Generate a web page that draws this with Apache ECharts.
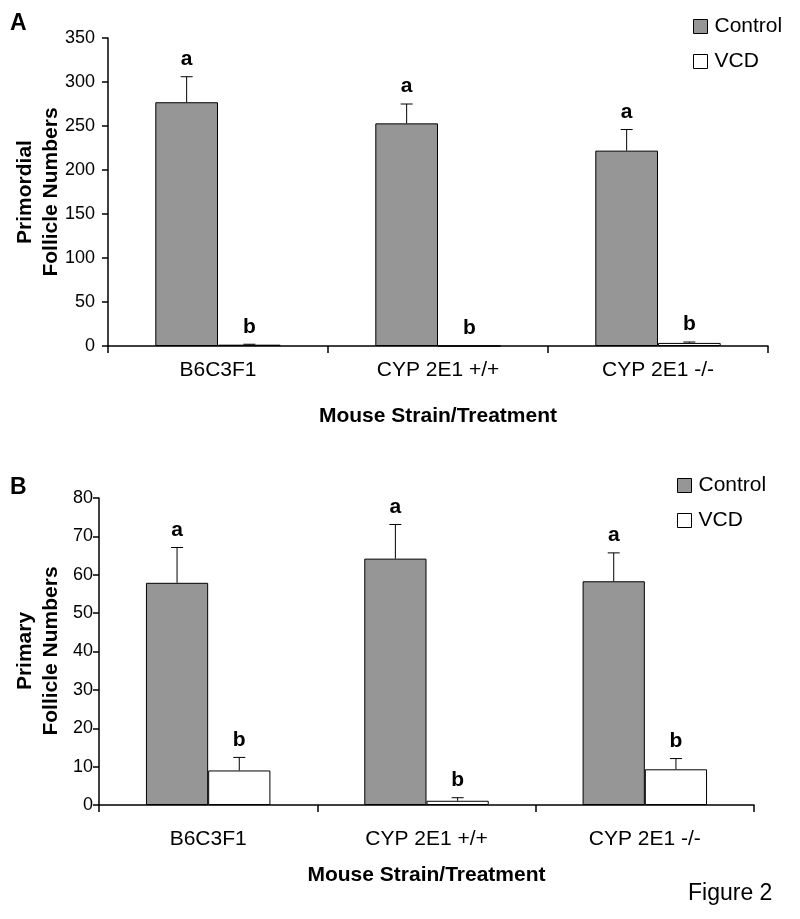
<!DOCTYPE html>
<html>
<head>
<meta charset="utf-8">
<script src="https://cdn.jsdelivr.net/npm/echarts@6/dist/echarts.min.js"></script>
<style>
html,body{margin:0;padding:0;background:#fff;}
#chart{width:800px;height:919px;}
</style>
</head>
<body>
<div id="chart"></div>
<script>
// ---- data ----
const categories = ['B6C3F1', 'CYP 2E1 +/+', 'CYP 2E1 -/-'];
const seriesNames = ['Control', 'VCD'];
// Panel A: primordial follicles
const aControl = [277, 253, 222];
const aControlErr = [29, 22, 24];
const aVCD = [1.5, 0, 3.5];
const aVCDErr = [0.5, 0, 1];
const aControlLetters = ['a', 'a', 'a'];
const aVCDLetters = ['b', 'b', 'b'];
// Panel B: primary follicles
const bControl = [57.9, 64.2, 58.3];
const bControlErr = [9.2, 8.9, 7.4];
const bVCD = [9.0, 1.1, 9.3];
const bVCDErr = [3.4, 0.8, 2.8];
const bControlLetters = ['a', 'a', 'a'];
const bVCDLetters = ['b', 'b', 'b'];
// axis ranges / ticks
const aYMax = 350, aYStep = 50;
const bYMax = 80, bYStep = 10;

const FONT = "'Liberation Sans', Arial, sans-serif";
const GRAY = '#969696';
const CAT_GAP = 0.43;

function errRender(values, errs, letters, sign) {
  return function (params, api) {
    const i = params.dataIndex;
    const v = values[i], e = errs[i];
    const band = api.size([1, 0])[0];
    const barW = band * (1 - CAT_GAP) / 2;
    const base = api.coord([i, v]);
    const cx = base[0] + sign * barW / 2;
    const top = api.coord([i, v + e])[1];
    const children = [];
    if (e > 0) {
      children.push({type: 'line', shape: {x1: cx, y1: base[1], x2: cx, y2: top},
        style: {stroke: '#000', lineWidth: 1}});
      children.push({type: 'line', shape: {x1: cx - 6, y1: top, x2: cx + 6, y2: top},
        style: {stroke: '#000', lineWidth: 1}});
    }
    children.push({type: 'text', x: cx, y: top - 7,
      style: {text: letters[i], font: 'bold 21px ' + FONT, fill: '#000',
        align: 'center', verticalAlign: 'bottom'}});
    return {type: 'group', children: children};
  };
}

function idx(arr) { return arr.map((_, i) => [i, 0]); }

const axisLineStyle = {show: true, lineStyle: {color: '#000', width: 1.5}};

const option = {
  animation: false,
  backgroundColor: '#fff',
  textStyle: {fontFamily: FONT},
  grid: [
    {left: 108, right: 32, top: 38, bottom: 573},
    {left: 99, right: 46, top: 498, bottom: 114}
  ],
  xAxis: [
    {type: 'category', gridIndex: 0, data: categories,
      axisLine: axisLineStyle, axisTick: {show: true, length: 7, lineStyle: {color: '#000', width: 1.5}},
      axisLabel: {color: '#000', fontSize: 21, fontFamily: FONT, margin: 14},
      name: 'Mouse Strain/Treatment', nameLocation: 'middle', nameGap: 60,
      nameTextStyle: {color: '#000', fontSize: 21, fontWeight: 'bold', fontFamily: FONT, verticalAlign: 'top'}},
    {type: 'category', gridIndex: 1, data: categories,
      axisLine: axisLineStyle, axisTick: {show: true, length: 7, lineStyle: {color: '#000', width: 1.5}},
      axisLabel: {color: '#000', fontSize: 21, fontFamily: FONT, margin: 24},
      name: 'Mouse Strain/Treatment', nameLocation: 'middle', nameGap: 60,
      nameTextStyle: {color: '#000', fontSize: 21, fontWeight: 'bold', fontFamily: FONT, verticalAlign: 'top'}}
  ],
  yAxis: [
    {type: 'value', gridIndex: 0, min: 0, max: aYMax, interval: aYStep,
      axisLine: axisLineStyle, axisTick: {show: true, length: 6, lineStyle: {color: '#000', width: 1.5}},
      splitLine: {show: false},
      axisLabel: {color: '#000', fontSize: 18, fontFamily: FONT, margin: 13}},
    {type: 'value', gridIndex: 1, min: 0, max: bYMax, interval: bYStep,
      axisLine: axisLineStyle, axisTick: {show: true, length: 6, lineStyle: {color: '#000', width: 1.5}},
      splitLine: {show: false},
      axisLabel: {color: '#000', fontSize: 18, fontFamily: FONT, margin: 6}}
  ],
  legend: [
    {orient: 'vertical', left: 688, top: 11, itemWidth: 14, itemHeight: 14, itemGap: 14,
      icon: 'rect', data: seriesNames,
      itemStyle: {borderColor: '#000', borderWidth: 1},
      textStyle: {color: '#000', fontSize: 21, fontFamily: FONT, padding: [0, 0, 0, 2]}},
    {orient: 'vertical', left: 672, top: 470, itemWidth: 14, itemHeight: 14, itemGap: 14,
      icon: 'rect', data: seriesNames,
      itemStyle: {borderColor: '#000', borderWidth: 1},
      textStyle: {color: '#000', fontSize: 21, fontFamily: FONT, padding: [0, 0, 0, 2]}}
  ],
  graphic: [
    {type: 'text', left: 10, top: 12, style: {text: 'A', font: 'bold 23px ' + FONT, fill: '#000'}},
    {type: 'text', left: 10, top: 476, style: {text: 'B', font: 'bold 23px ' + FONT, fill: '#000'}},
    {type: 'text', x: 38, y: 192, rotation: Math.PI / 2,
      style: {text: 'Primordial\nFollicle Numbers', font: 'bold 21px ' + FONT, fill: '#000',
        align: 'center', verticalAlign: 'middle', lineHeight: 26}},
    {type: 'text', x: 38, y: 651, rotation: Math.PI / 2,
      style: {text: 'Primary\nFollicle Numbers', font: 'bold 21px ' + FONT, fill: '#000',
        align: 'center', verticalAlign: 'middle', lineHeight: 26}},
    {type: 'text', x: 688, y: 905, style: {text: 'Figure 2', font: '23px ' + FONT, fill: '#000',
      verticalAlign: 'bottom'}}
  ],
  series: [
    {name: 'Control', type: 'bar', xAxisIndex: 0, yAxisIndex: 0, data: aControl,
      barGap: '0%', barCategoryGap: '43%',
      itemStyle: {color: GRAY, borderColor: '#000', borderWidth: 1}},
    {name: 'VCD', type: 'bar', xAxisIndex: 0, yAxisIndex: 0, data: aVCD,
      barGap: '0%', barCategoryGap: '43%',
      itemStyle: {color: '#fff', borderColor: '#000', borderWidth: 1}},
    {name: 'Control', type: 'bar', xAxisIndex: 1, yAxisIndex: 1, data: bControl,
      barGap: '0%', barCategoryGap: '43%',
      itemStyle: {color: GRAY, borderColor: '#000', borderWidth: 1}},
    {name: 'VCD', type: 'bar', xAxisIndex: 1, yAxisIndex: 1, data: bVCD,
      barGap: '0%', barCategoryGap: '43%',
      itemStyle: {color: '#fff', borderColor: '#000', borderWidth: 1}},
    {type: 'custom', xAxisIndex: 0, yAxisIndex: 0, data: idx(aControl), z: 5,
      renderItem: errRender(aControl, aControlErr, aControlLetters, -1)},
    {type: 'custom', xAxisIndex: 0, yAxisIndex: 0, data: idx(aVCD), z: 5,
      renderItem: errRender(aVCD, aVCDErr, aVCDLetters, 1)},
    {type: 'custom', xAxisIndex: 1, yAxisIndex: 1, data: idx(bControl), z: 5,
      renderItem: errRender(bControl, bControlErr, bControlLetters, -1)},
    {type: 'custom', xAxisIndex: 1, yAxisIndex: 1, data: idx(bVCD), z: 5,
      renderItem: errRender(bVCD, bVCDErr, bVCDLetters, 1)}
  ]
};

const chart = echarts.init(document.getElementById('chart'), null, {renderer: 'canvas'});
chart.setOption(option);
</script>
</body>
</html>
